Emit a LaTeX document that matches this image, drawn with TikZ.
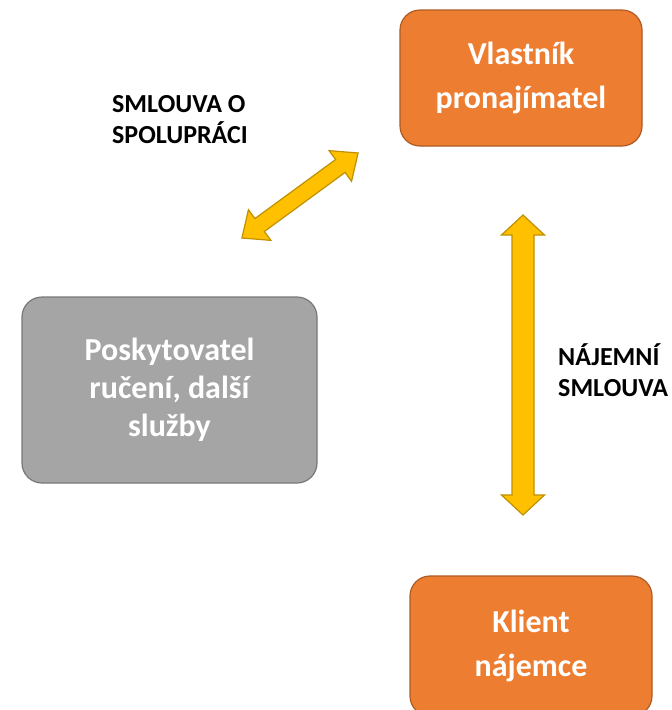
\documentclass[tikz,border=0pt]{standalone}
\usepackage{fontspec}
\setmainfont{Carlito}
\definecolor{orfill}{HTML}{ED7D31}
\definecolor{ordraw}{HTML}{AE5A21}
\definecolor{gyfill}{HTML}{A5A5A5}
\definecolor{gydraw}{HTML}{787878}
\definecolor{gofill}{HTML}{FFC000}
\definecolor{godraw}{HTML}{BF9000}
\begin{document}
\begin{tikzpicture}[x=1pt,y=-1pt,
  boxbase/.style={rounded corners=20pt, line width=1.2pt, text=white, align=center,
    font=\fontsize{32}{44}\selectfont\bfseries, inner sep=0pt},
  orbox/.style={boxbase, fill=orfill, draw=ordraw},
  gybox/.style={boxbase, fill=gyfill, draw=gydraw, font=\fontsize{32}{38}\selectfont\bfseries},
  lbl/.style={align=left, anchor=north west, inner sep=0pt, text=black,
    font=\fontsize{26}{31}\selectfont\bfseries},
  dblarrow/.style={fill=gofill, draw=godraw, line width=1.2pt, line join=miter}]
\useasboundingbox (0,0) rectangle (672,710);
\fill[white] (0,0) rectangle (672,710);

\node[orbox, minimum width=242pt, minimum height=136pt] (owner) at (521,78) {Vlastník\\pronajímatel};
\node[orbox, minimum width=242pt, minimum height=140pt] (client) at (531,646) {Klient\\nájemce};
\node[gybox, minimum width=295pt, minimum height=186pt] (provider) at (169.5,390) {Poskytovatel\\ručení, další\\služby};

\node[lbl] (lcoop) at (112,95) {SMLOUVA O\\SPOLUPRÁCI};
\node[lbl] (lrent) at (558,343) {NÁJEMNÍ\\SMLOUVA};

\coordinate (diag) at (300,195.5);
\coordinate (vert) at (523,365);
\begin{scope}[shift={(diag)}, rotate=36.2]
  \draw[dblarrow] (-72,0) -- (-50,19) -- (-50,8) -- (50,8) -- (50,19) -- (72,0)
    -- (50,-19) -- (50,-8) -- (-50,-8) -- (-50,-19) -- cycle;
\end{scope}
\begin{scope}[shift={(vert)}, rotate=90]
  \draw[dblarrow] (-150,0) -- (-130,21.5) -- (-130,11) -- (130,11) -- (130,21.5) -- (150,0)
    -- (130,-21.5) -- (130,-11) -- (-130,-11) -- (-130,-21.5) -- cycle;
\end{scope}
\end{tikzpicture}
\end{document}
